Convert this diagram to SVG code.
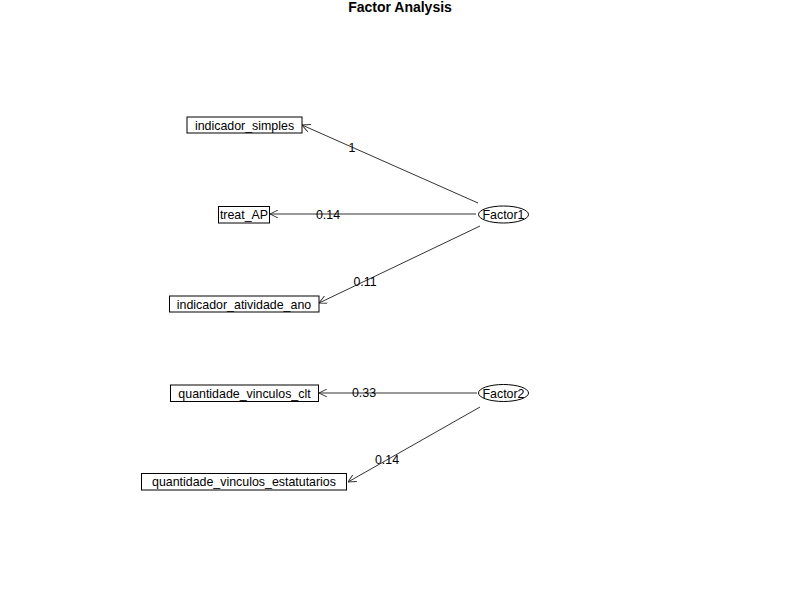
<svg xmlns="http://www.w3.org/2000/svg" width="800" height="600" viewBox="0 0 800 600">
<style>
text{font-family:"Liberation Sans",Arial,sans-serif;font-size:12.4px;fill:#000;text-anchor:middle}
.title{font-size:14px;font-weight:bold}
.box{fill:#fff;stroke:#000;stroke-width:1}
.ell{fill:#fff;stroke:#000;stroke-width:1}
.edge{stroke:#333;stroke-width:1;fill:none;marker-end:url(#arr)}
</style>
<defs>
<marker id="arr" viewBox="0 0 10 10" refX="10" refY="5" markerWidth="8" markerHeight="8" markerUnits="userSpaceOnUse" orient="auto">
<path d="M0,0 L10,5 L0,10" fill="none" stroke="#333" stroke-width="1.2"/>
</marker>
</defs>
<rect width="800" height="600" fill="#fff"/>
<text class="title" x="400" y="12">Factor Analysis</text>
<g id="connectors">
<line class="edge" x1="478" y1="203" x2="302" y2="125"/>
<line class="edge" x1="476" y1="214" x2="270" y2="214"/>
<line class="edge" x1="480" y1="226" x2="319" y2="303"/>
<line class="edge" x1="477" y1="393" x2="319" y2="393"/>
<line class="edge" x1="480" y1="407" x2="348" y2="482"/>
<text x="352" y="152">1</text>
<text x="328" y="219">0.14</text>
<text x="365" y="286">0.11</text>
<text x="364" y="397">0.33</text>
<text x="387" y="464">0.14</text>
</g>
<g id="indicador_simples"><rect class="box" x="187" y="117" width="115" height="16"/><text x="244.5" y="129.5">indicador_simples</text></g>
<g id="treat_AP"><rect class="box" x="218.5" y="206.5" width="51" height="16.5"/><text x="244" y="219">treat_AP</text></g>
<g id="indicador_atividade_ano"><rect class="box" x="169.5" y="296" width="149.5" height="16"/><text x="244" y="308.5">indicador_atividade_ano</text></g>
<g id="quantidade_vinculos_clt"><rect class="box" x="170.5" y="385" width="148" height="16.5"/><text x="244.5" y="397.5">quantidade_vinculos_clt</text></g>
<g id="quantidade_vinculos_estatutarios"><rect class="box" x="141.5" y="473.5" width="205" height="16.5"/><text x="244" y="486">quantidade_vinculos_estatutarios</text></g>
<g id="Factor1"><ellipse class="ell" cx="503.5" cy="214.5" rx="25" ry="8.5"/><text x="503.5" y="219">Factor1</text></g>
<g id="Factor2"><ellipse class="ell" cx="503.5" cy="393" rx="25" ry="8.5"/><text x="503.5" y="397.5">Factor2</text></g>
</svg>
